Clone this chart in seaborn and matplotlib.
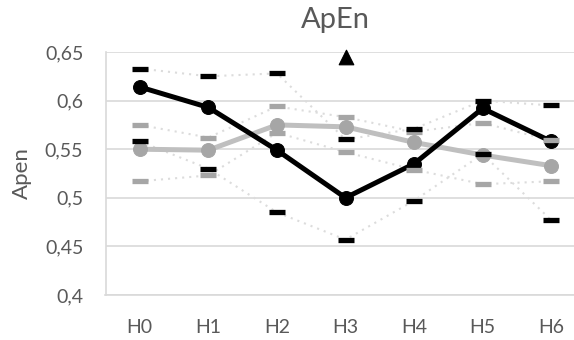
import matplotlib
matplotlib.use("Agg")
import matplotlib.pyplot as plt
import seaborn as sns
import pandas as pd

# ApEn per stage, two groups, with upper/lower bounds
stages = ["H0", "H1", "H2", "H3", "H4", "H5", "H6"]

black_mean = [0.614, 0.593, 0.549, 0.500, 0.535, 0.592, 0.558]
black_upper = [0.633, 0.625, 0.628, 0.560, 0.571, 0.600, 0.595]
black_lower = [0.558, 0.530, 0.485, 0.457, 0.497, 0.545, 0.477]

gray_mean = [0.550, 0.549, 0.575, 0.573, 0.557, 0.544, 0.533]
gray_upper = [0.575, 0.562, 0.594, 0.583, 0.568, 0.577, 0.559]
gray_lower = [0.517, 0.523, 0.567, 0.547, 0.529, 0.514, 0.517]

# significance mark
sig_stage = ["H3"]
sig_value = [0.6445]

y_ticks = [0.40, 0.45, 0.50, 0.55, 0.60, 0.65]
y_tick_labels = ["0,4", "0,45", "0,5", "0,55", "0,6", "0,65"]

title = "ApEn"
y_label = "Apen"

sns.set_theme(style="white")
plt.rcParams["font.family"] = ["Lato", "DejaVu Sans"]

df = pd.DataFrame({
    "stage": stages,
    "black_mean": black_mean, "black_upper": black_upper, "black_lower": black_lower,
    "gray_mean": gray_mean, "gray_upper": gray_upper, "gray_lower": gray_lower,
})

fig = plt.figure(figsize=(5.74, 3.40), dpi=100)
ax = fig.add_axes([105.5 / 574, 45 / 340, 480 / 574, 243 / 340])

grid_c = "#d9d9d9"
text_c = "#595959"
dot_c = "#dcdcdc"

# dotted bound connectors
for col in ["black_upper", "black_lower", "gray_upper", "gray_lower"]:
    sns.lineplot(data=df, x="stage", y=col, ax=ax, color=dot_c, lw=1.5,
                 linestyle=(0, (1, 2.4)), sort=False, zorder=2)

# main series
sns.lineplot(data=df, x="stage", y="gray_mean", ax=ax, color="#bfbfbf", lw=3.6,
             marker="o", markersize=10, markerfacecolor="#a6a6a6",
             markeredgecolor="#a6a6a6", sort=False, zorder=3)
sns.lineplot(data=df, x="stage", y="black_mean", ax=ax, color="black", lw=3.6,
             marker="o", markersize=10, markerfacecolor="black",
             markeredgecolor="black", sort=False, zorder=4)

# bound dashes
for col, c in [("gray_upper", "#a6a6a6"), ("gray_lower", "#a6a6a6"),
               ("black_upper", "black"), ("black_lower", "black")]:
    ax.plot(df["stage"], df[col], linestyle="none", marker="_",
            markersize=12, markeredgewidth=3.8, color=c, zorder=5)

sig = pd.DataFrame({"stage": sig_stage, "v": sig_value})
sns.scatterplot(data=sig, x="stage", y="v", ax=ax, marker="^", s=110,
                color="black", edgecolor="black", zorder=6, clip_on=False)

ax.set_xlim(-0.5, 6.5)
ax.set_ylim(0.40, 0.65)
ax.set_yticks(y_ticks)
ax.set_yticklabels(y_tick_labels)
ax.yaxis.grid(True, color=grid_c, lw=1.2)
ax.set_axisbelow(True)
for s in ["top", "right"]:
    ax.spines[s].set_visible(False)
for s in ["left", "bottom"]:
    ax.spines[s].set_color(grid_c)
    ax.spines[s].set_linewidth(1.2)
ax.tick_params(axis="y", length=0, pad=16, labelsize=14, labelcolor=text_c)
ax.tick_params(axis="x", length=0, pad=17, labelsize=14, labelcolor=text_c)
ax.set_xlabel("")
ax.set_ylabel("")
for line in ax.lines:
    line.set_clip_on(False)

fig.text(335 / 574, 1 - 20 / 340, title, ha="center", va="center",
         fontsize=21, color=text_c)
fig.text(22 / 574, 1 - 173 / 340, y_label, ha="center", va="center",
         rotation=90, fontsize=16, color=text_c)

fig.savefig("out.png", dpi=100, facecolor="white")
